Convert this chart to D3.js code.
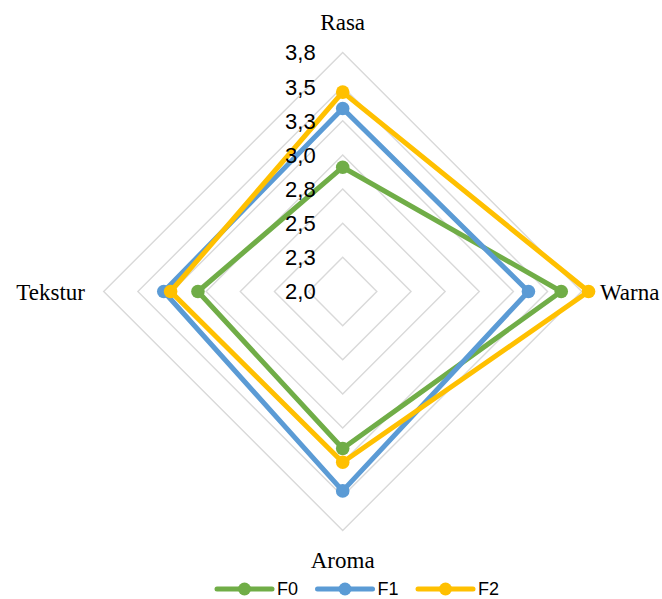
<!DOCTYPE html>
<html>
<head>
<meta charset="utf-8">
<script src="https://cdn.jsdelivr.net/npm/d3@7"></script>
<style>
  html, body { margin: 0; padding: 0; background: #fff; }
  svg { display: block; }
</style>
</head>
<body>
<svg id="chart" width="662" height="599"></svg>
<script>
// Sensory attributes, clockwise from the top
const categories = ["Rasa", "Warna", "Aroma", "Tekstur"];

// Mean scores per formula
const seriesNames = ["F0", "F1", "F2"];
const valuesF0 = [2.91, 3.60, 3.15, 3.06];
const valuesF1 = [3.34, 3.36, 3.46, 3.31];
const valuesF2 = [3.46, 3.80, 3.25, 3.26];
const seriesColors = ["#70AD47", "#5B9BD5", "#FFC000"];

// Radial axis ticks
const tickValues = [2.0, 2.25, 2.5, 2.75, 3.0, 3.25, 3.5, 3.75];
const tickLabels = ["2,0", "2,3", "2,5", "2,8", "3,0", "3,3", "3,5", "3,8"];

const series = [valuesF0, valuesF1, valuesF2].map((v, i) => ({
  name: seriesNames[i], values: v, color: seriesColors[i]
}));

const svg = d3.select("#chart");
const cx = 342.7, cy = 291.5, R = 239;

const r = d3.scaleLinear().domain([tickValues[0], tickValues[tickValues.length - 1]]).range([0, R]);
const angle = d3.scalePoint().domain(categories).range([0, 2 * Math.PI * (categories.length - 1) / categories.length]);

const pt = (cat, v) => {
  const a = angle(cat);
  return [cx + r(v) * Math.sin(a), cy - r(v) * Math.cos(a)];
};

const g = svg.append("g");

// Grid polygons (no polygon at the centre value)
g.append("g").selectAll("polygon")
  .data(tickValues.slice(1))
  .join("polygon")
  .attr("points", t => categories.map(c => pt(c, t).join(",")).join(" "))
  .attr("fill", "none")
  .attr("stroke", "#d9d9d9")
  .attr("stroke-width", 1.4);

// Series lines and markers
const lineGen = d3.line().curve(d3.curveLinearClosed);
const sg = g.append("g").selectAll("g").data(series).join("g");
sg.append("path")
  .attr("d", s => lineGen(categories.map((c, i) => pt(c, s.values[i]))))
  .attr("fill", "none")
  .attr("stroke", s => s.color)
  .attr("stroke-width", 5)
  .attr("stroke-linejoin", "round");
sg.selectAll("circle")
  .data(s => categories.map((c, i) => ({ p: pt(c, s.values[i]), color: s.color })))
  .join("circle")
  .attr("cx", d => d.p[0])
  .attr("cy", d => d.p[1])
  .attr("r", 6.8)
  .attr("fill", d => d.color);

// Radial tick labels along the top axis
g.append("g").selectAll("text")
  .data(tickValues)
  .join("text")
  .attr("x", cx - 27)
  .attr("y", t => cy - r(t))
  .attr("dy", "0.36em")
  .attr("text-anchor", "end")
  .attr("font-family", "'Liberation Sans', Arial, sans-serif")
  .attr("font-size", 22)
  .attr("fill", "#000")
  .text((t, i) => tickLabels[i]);

// Category labels
const catPos = {
  "Rasa":    { x: cx, y: 30, anchor: "middle" },
  "Warna":   { x: 600, y: 300, anchor: "start" },
  "Aroma":   { x: cx, y: 568, anchor: "middle" },
  "Tekstur": { x: 85, y: 300, anchor: "end" }
};
g.append("g").selectAll("text")
  .data(categories)
  .join("text")
  .attr("x", c => catPos[c].x)
  .attr("y", c => catPos[c].y)
  .attr("text-anchor", c => catPos[c].anchor)
  .attr("font-family", "'Liberation Serif', 'Times New Roman', serif")
  .attr("font-size", 23)
  .attr("fill", "#000")
  .text(c => c);

// Legend
const legendX = d3.scalePoint().domain(seriesNames).range([217, 418]);
const lg = svg.append("g").selectAll("g").data(series).join("g")
  .attr("transform", s => `translate(${legendX(s.name)},589)`);
lg.append("line")
  .attr("x1", 0).attr("x2", 55)
  .attr("stroke", s => s.color)
  .attr("stroke-width", 5)
  .attr("stroke-linecap", "round");
lg.append("circle")
  .attr("cx", 27.5).attr("r", 6.5)
  .attr("fill", s => s.color);
lg.append("text")
  .attr("x", 60)
  .attr("dy", "0.36em")
  .attr("font-family", "'Liberation Sans', Arial, sans-serif")
  .attr("font-size", 18)
  .attr("fill", "#000")
  .text(s => s.name);
</script>
</body>
</html>
